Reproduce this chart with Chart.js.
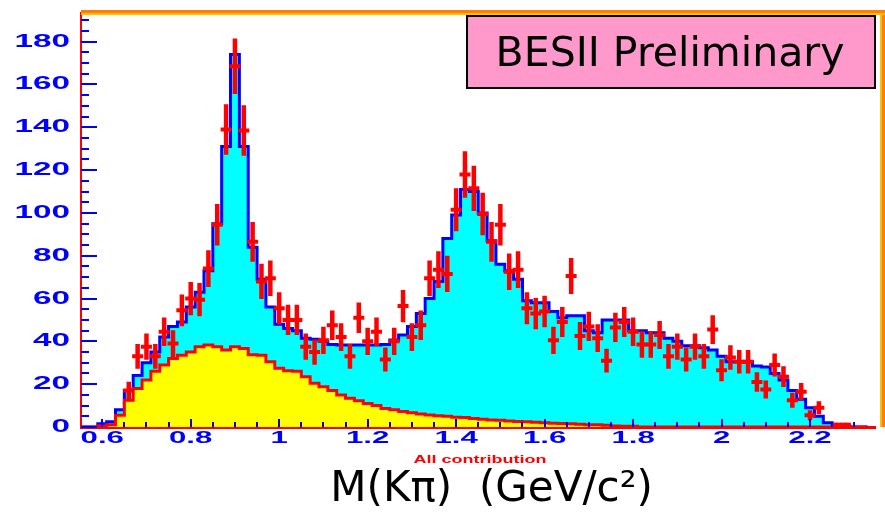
<!DOCTYPE html>
<html>
<head>
<meta charset="utf-8">
<script src="https://cdn.jsdelivr.net/npm/chart.js@4.4.1/dist/chart.umd.min.js"></script>
<style>
  html, body { margin: 0; padding: 0; background: #fff; }
  #wrap { width: 885px; height: 513px; }
</style>
</head>
<body>
<div id="wrap"><canvas id="chart" width="885" height="513"></canvas></div>
<script>
// bin centres of M(Kpi), GeV/c^2 (bins are 0.02 wide)
const massBins = [
  0.56, 0.58, 0.60, 0.62, 0.64, 0.66, 0.68, 0.70, 0.72, 0.74,
  0.76, 0.78, 0.80, 0.82, 0.84, 0.86, 0.88, 0.90, 0.92, 0.94,
  0.96, 0.98, 1.00, 1.02, 1.04, 1.06, 1.08, 1.10, 1.12, 1.14,
  1.16, 1.18, 1.20, 1.22, 1.24, 1.26, 1.28, 1.30, 1.32, 1.34,
  1.36, 1.38, 1.40, 1.42, 1.44, 1.46, 1.48, 1.50, 1.52, 1.54,
  1.56, 1.58, 1.60, 1.62, 1.64, 1.66, 1.68, 1.70, 1.72, 1.74,
  1.76, 1.78, 1.80, 1.82, 1.84, 1.86, 1.88, 1.90, 1.92, 1.94,
  1.96, 1.98, 2.00, 2.02, 2.04, 2.06, 2.08, 2.10, 2.12, 2.14,
  2.16, 2.18, 2.20, 2.22, 2.24, 2.26, 2.28, 2.30, 2.32
];

// total fit (blue outline, cyan fill)
const fitTotal = [
  0, 0, 1.5, 2.5, 8, 17, 24, 30, 35, 42,
  47, 49, 56, 63, 73, 95, 131, 174, 131, 84,
  69, 56, 48, 46, 45, 41.5, 41, 40, 38.5, 38.3,
  38.3, 38.3, 38.3, 38.3, 38.5, 40.7, 43, 47, 53, 60,
  68, 88, 99, 111, 110, 100, 87, 76, 73, 69,
  59, 58, 58, 54, 51, 52, 52, 45, 44, 50,
  50, 50, 45, 45, 44, 44, 41.5, 40, 38, 38,
  37, 36, 33, 30.5, 30.5, 30.5, 28.5, 28, 25, 22,
  17, 13, 9, 5, 2, 1, 0.5, 0, 0
];

// background part of the fit (red outline, yellow fill)
const fitBackground = [
  0, 0, 0.5, 1, 5.5, 12.5, 18, 22, 26, 29,
  32, 33.5, 35, 37.5, 38.3, 37.5, 36, 37.5, 36.7, 33.7,
  33.5, 30.5, 27.5, 26.3, 26, 23.5, 20.4, 18.8, 17, 15,
  13.4, 12.3, 11, 10, 8.7, 8, 7.2, 6.7, 6.1, 5.6,
  5.3, 5, 4.6, 4.4, 4, 3.6, 3.3, 3.1, 2.8, 2.6,
  2.4, 2.2, 2, 1.8, 1.6, 1.5, 1.3, 1.1, 1, 0.8,
  0.5, 0.4, 0.3, 0, 0, 0, 0, 0, 0, 0,
  0, 0, 0, 0, 0, 0, 0, 0, 0, 0,
  0, 0, 0, 0, 0, 0, 0, 0, 0
];

// measured events per bin (red crosses)
const dataCounts = [
  null, null, null, null, null, 17, 33, 37.5, 33, 44.5,
  39, 54.5, 60, 59.5, 74, 94.5, 139, 168.5, 138.5, 86.5,
  68, 69.5, 55.5, 50, 50, 37.5, 35, 40.5, 47.5, 42,
  33, 51, 40, 44.5, 31.5, 40, 56.5, 42, 47.5, 69.5,
  73.5, 71.5, 101.5, 118, 111.5, 99.5, 86.5, 94.5, 72.5, 73.5,
  55.5, 53, 54, 40.5, 49, 70.5, 42.5, 47, 41.5, 31,
  46.5, 49, 44.5, 38.5, 38.5, 43, 33, 37.5, 31.5, 37.5,
  33, 45.5, 26.5, 32.5, 30.5, 30.5, 21, 17.5, 29, 23.5,
  12.5, 16.5, 5.5, 9, null, 1, 1, null, null
];

const xTickLabels = ['0.6', '0.8', '1', '1.2', '1.4', '1.6', '1.8', '2', '2.2'];
const yTickLabels = ['0', '20', '40', '60', '80', '100', '120', '140', '160', '180'];

// leading spaces nudge the centred title a little to the right, like the original
const axisTitle = '  M(Kπ)  (GeV/c²)';
const histTitle = 'All contribution';
const boxText = 'BESII Preliminary';

const binWidth = 0.02;

// points at the left edge of each bin, plus the closing right edge
function histSteps(values) {
  const pts = massBins.map((m, i) => ({ x: m - binWidth / 2, y: values[i] }));
  const last = massBins.length - 1;
  pts.push({ x: massBins[last] + binWidth / 2, y: values[last] });
  return pts;
}

// vertical error bars (sqrt N) and the little horizontal marks
const errBars = [];
const errMarks = [];
massBins.forEach((m, i) => {
  const n = dataCounts[i];
  if (n === null) return;
  const e = Math.sqrt(n);
  errBars.push({ x: m, y: n - e }, { x: m, y: n + e }, { x: m, y: null });
  errMarks.push({ x: m, y: n });
});

function wideText(ctx, text, x, y, sx, align) {
  ctx.save();
  ctx.translate(x, y);
  ctx.scale(sx, 1);
  ctx.textAlign = align;
  ctx.fillText(text, 0, 0);
  ctx.restore();
}

const decor = {
  id: 'decor',
  afterDatasetsDraw(chart) {
    const { ctx, chartArea: a, scales: { x, y } } = chart;
    ctx.save();
    ctx.strokeStyle = '#0000ff';
    ctx.lineWidth = 2;
    ctx.beginPath();
    for (let v = 0; v <= 190; v += 5) {
      const py = Math.round(y.getPixelForValue(v));
      const len = v % 20 === 0 ? 16 : 8;
      ctx.moveTo(a.left, py);
      ctx.lineTo(a.left + len, py);
    }
    for (let k = 0; k <= 34; k++) {
      const px = Math.round(x.getPixelForValue(0.6 + k * 0.05));
      const len = k % 4 === 0 ? 8 : 5;
      ctx.moveTo(px, a.bottom);
      ctx.lineTo(px, a.bottom - len);
    }
    ctx.stroke();
    ctx.restore();
  },
  afterDraw(chart) {
    const { ctx, chartArea: a, scales: { x, y } } = chart;
    ctx.save();

    // frame: orange/yellow top and right edges
    ctx.fillStyle = '#ff8000';
    ctx.fillRect(a.left, 10, 885 - a.left, 3);
    ctx.fillRect(882, 10, 3, a.bottom - 10);
    ctx.fillStyle = '#ffc000';
    ctx.fillRect(a.left, 13, 885 - a.left, 2);
    ctx.fillRect(880, 13, 2, a.bottom - 13);

    // tick labels, wide bold blue
    ctx.fillStyle = '#0000ff';
    ctx.textBaseline = 'middle';
    ctx.font = 'bold 18px "Liberation Sans"';
    yTickLabels.forEach(lab => {
      wideText(ctx, lab, 70, y.getPixelForValue(parseFloat(lab)), 1.85, 'right');
    });
    ctx.font = 'bold 16px "Liberation Sans"';
    xTickLabels.forEach(lab => {
      wideText(ctx, lab, x.getPixelForValue(parseFloat(lab)), 439, 1.95, 'center');
    });

    // histogram title under the axis
    ctx.fillStyle = '#ff0000';
    ctx.font = 'bold 10px "Liberation Sans"';
    wideText(ctx, histTitle, 480, 460, 1.8, 'center');

    // "BESII Preliminary" box
    ctx.fillStyle = '#ff99cc';
    ctx.fillRect(467, 16, 408, 72);
    ctx.strokeStyle = '#000';
    ctx.lineWidth = 2;
    ctx.strokeRect(467, 16, 408, 72);
    ctx.fillStyle = '#000';
    ctx.font = '41px "DejaVu Sans"';
    ctx.textAlign = 'center';
    ctx.textBaseline = 'alphabetic';
    ctx.fillText(boxText, 670, 66);

    ctx.restore();
  }
};

new Chart(document.getElementById('chart'), {
  type: 'line',
  data: {
    datasets: [
      {
        label: 'data marks',
        data: errMarks,
        showLine: false,
        pointStyle: 'line',
        pointRadius: 5.5,
        pointHoverRadius: 5.5,
        pointBorderWidth: 4,
        pointBorderColor: '#ff0000',
        order: 0
      },
      {
        label: 'data errors',
        data: errBars,
        spanGaps: false,
        borderColor: '#ff0000',
        borderWidth: 4.5,
        borderCapStyle: 'butt',
        pointRadius: 0,
        order: 1
      },
      {
        label: 'background',
        data: histSteps(fitBackground),
        stepped: 'before',
        fill: 'origin',
        backgroundColor: '#ffff00',
        borderColor: '#ff0000',
        borderWidth: 3,
        pointRadius: 0,
        order: 2
      },
      {
        label: 'total',
        data: histSteps(fitTotal),
        stepped: 'before',
        fill: 'origin',
        backgroundColor: '#00ffff',
        borderColor: '#0000ff',
        borderWidth: 3,
        pointRadius: 0,
        order: 3
      }
    ]
  },
  options: {
    responsive: false,
    animation: false,
    events: [],
    layout: { padding: { top: 13, right: 4, bottom: 0, left: 0 } },
    plugins: {
      legend: { display: false },
      tooltip: { enabled: false }
    },
    scales: {
      x: {
        type: 'linear',
        min: 0.552,
        max: 2.348,
        offset: false,
        grid: { display: false },
        border: { display: true, color: '#ff0000', width: 3 },
        ticks: { display: false },
        title: {
          display: true,
          text: axisTitle,
          color: '#000',
          font: { family: 'DejaVu Sans', size: 42 },
          padding: { top: 0, bottom: -2 }
        },
        afterFit: s => { s.height = 86; }
      },
      y: {
        type: 'linear',
        min: 0,
        max: 193.4,
        grid: { display: false },
        border: { display: true, color: '#ff0000', width: 2 },
        ticks: { display: false },
        afterFit: s => { s.width = 81; }
      }
    }
  },
  plugins: [decor]
});
</script>
</body>
</html>
